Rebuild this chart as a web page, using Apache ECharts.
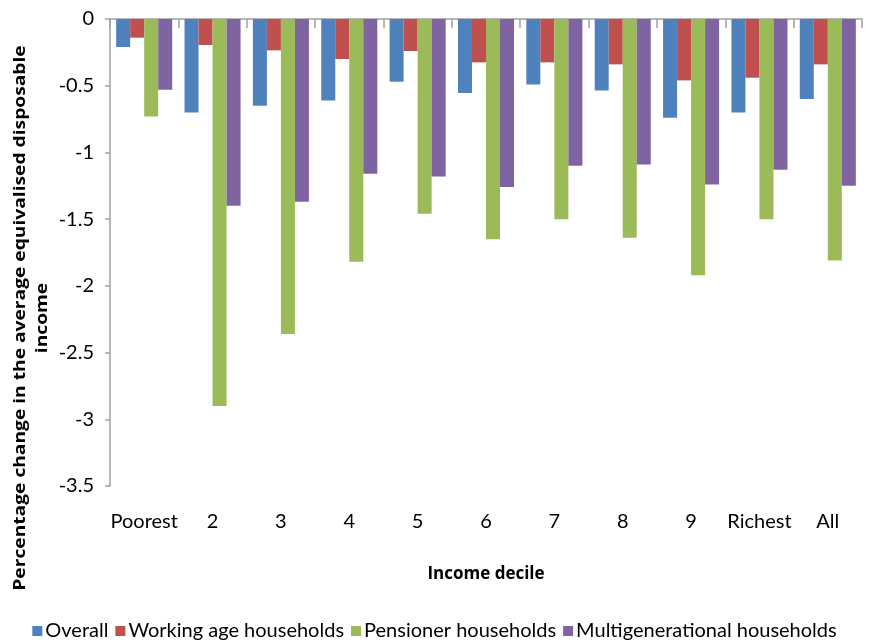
<!DOCTYPE html>
<html>
<head>
<meta charset="utf-8">
<script src="https://cdn.jsdelivr.net/npm/echarts@6/dist/echarts.min.js"></script>
<style>html,body{margin:0;padding:0;background:#fff}#c{width:869px;height:642px}</style>
</head>
<body>
<div id="c"></div>
<script>
const categories = ['Poorest','2','3','4','5','6','7','8','9','Richest','All'];
const seriesNames = ['Overall','Working age households','Pensioner households','Multigenerational households'];
const overall = [-0.21,-0.70,-0.65,-0.61,-0.47,-0.555,-0.49,-0.535,-0.74,-0.70,-0.60];
const workingAge = [-0.14,-0.195,-0.235,-0.30,-0.24,-0.325,-0.325,-0.34,-0.46,-0.44,-0.34];
const pensioner = [-0.73,-2.90,-2.36,-1.82,-1.46,-1.65,-1.50,-1.64,-1.92,-1.50,-1.81];
const multigen = [-0.53,-1.40,-1.37,-1.16,-1.18,-1.26,-1.10,-1.09,-1.24,-1.13,-1.25];
const yTicks = [0,-0.5,-1,-1.5,-2,-2.5,-3,-3.5];
const colors = ['#4F81BD','#C0504D','#9BBB59','#8064A2'];

const FONT = 'Lato, "Open Sans", sans-serif';
const TFONT = '"Open Sans", sans-serif';
const chart = echarts.init(document.getElementById('c'), null, {renderer:'canvas'});
const values = [overall, workingAge, pensioner, multigen];
chart.setOption({
  animation: false,
  color: colors,
  grid: {left:110, right:7, top:19, bottom:156, containLabel:false},
  legend: {
    top: 616, left: 'center',
    itemWidth: 10, itemHeight: 10, itemGap: 7,
    icon: 'rect',
    textStyle: {fontFamily: FONT, fontSize: 20, color:'#000', padding:[0,0,0,-2]},
    data: seriesNames
  },
  xAxis: [{
    type:'category', data: categories, position:'top',
    axisLine:{show:true, lineStyle:{color:'#A0A0A0', width:1.5}},
    axisTick:{show:true, inside:true, length:9, lineStyle:{color:'#A0A0A0', width:1.5}},
    axisLabel:{show:false}
  },{
    type:'category', data: categories, position:'bottom',
    axisLine:{show:false, onZero:false}, axisTick:{show:false},
    axisLabel:{show:true, interval:0, margin:26, fontFamily: FONT, fontSize:20, color:'#000'},
    name:'Income decile', nameLocation:'middle', nameGap:80,
    nameTextStyle:{fontFamily: TFONT, fontSize:17, fontWeight:'bold', color:'#000'}
  }],
  yAxis: {
    type:'value', min:-3.5, max:0, interval:0.5,
    axisLine:{show:true, lineStyle:{color:'#A0A0A0', width:1.5}},
    axisTick:{show:true, length:5, lineStyle:{color:'#A0A0A0', width:1.5}},
    splitLine:{show:false},
    axisLabel:{margin:16, fontFamily: FONT, fontSize:20, color:'#000',
      formatter: v => String(v)}
  },
  graphic: [{
    type:'text', x:31, y:318, rotation: Math.PI/2, scaleX: 1.2,
    style:{text:'Percentage change in the average equivalised disposable\nincome',
      font:'bold 16px ' + TFONT, fill:'#000', align:'center', verticalAlign:'middle', lineHeight:22}
  }],
  series: seriesNames.map((n,i)=>({
    name:n, type:'bar', data: values[i], xAxisIndex:0,
    barGap:'0%', barCategoryGap:'18%',
    itemStyle:{color:colors[i]}
  }))
});
</script>
</body>
</html>
